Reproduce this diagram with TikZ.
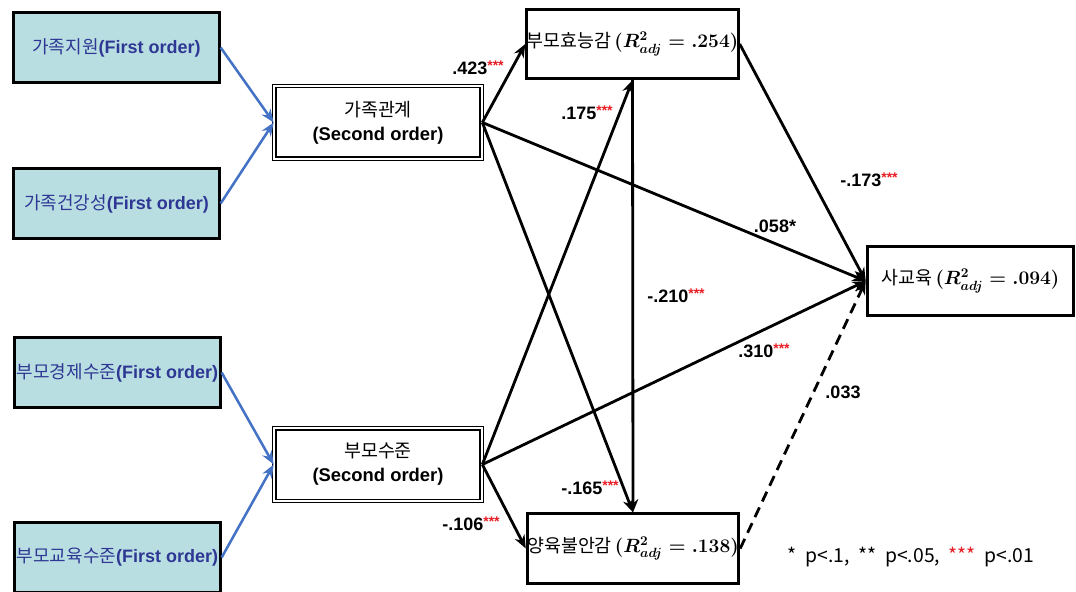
\documentclass[tikz,border=0pt]{standalone}
\usepackage{fontspec}
\usepackage{bm}
\usetikzlibrary{arrows.meta}
\setmainfont{Liberation Sans}
\newfontfamily\kor{Noto Sans CJK KR}
\definecolor{boxteal}{RGB}{185,222,226}
\definecolor{ordblue}{RGB}{46,56,148}
\definecolor{linkblue}{RGB}{68,114,196}
\definecolor{sigred}{RGB}{232,30,36}
\newcommand{\sig}[1]{\textcolor{sigred}{\raisebox{0.45ex}{\fontsize{10.5}{10}\selectfont #1}}}
\newcommand{\radj}[1]{\,{\boldmath$(\bm{R}^2_{\bm{adj}}=\bm{.#1})$}}

\begin{document}
\begin{tikzpicture}[x=0.75pt,y=-0.75pt,
   first/.style={draw,line width=2.2pt,fill=boxteal,minimum width=154pt,minimum height=52pt,
                 inner sep=0pt,text=ordblue,font=\fontsize{13.5}{15}\selectfont},
   second/.style={draw,double,line width=1pt,double distance=1.5pt,minimum width=155.5pt,
                  minimum height=54.5pt,align=center,font=\fontsize{13.8}{18}\selectfont},
   latent/.style={draw,line width=2.2pt,minimum width=155pt,minimum height=52pt,inner sep=0pt,
                  font=\fontsize{13.8}{15}\selectfont},
   coef/.style={font=\bfseries\fontsize{13.5}{15}\selectfont},
   effect/.style={->,line width=2.1pt},
   loading/.style={->,line width=1.9pt,draw=linkblue},
   >={Stealth[length=10pt,width=8pt]}]
   \useasboundingbox (0,0) rectangle (1076,592);

   % first order factors
   \node[first] (famsup)  at (116.5,47.5)  {{\kor 가족지원}\textbf{(First order)}};
   \node[first] (famhlth) at (116.5,203.5) {{\kor 가족건강성}\textbf{(First order)}};
   \node[first] (parecon) at (117.5,372.5) {{\kor 부모경제수준}\textbf{(First order)}};
   \node[first] (paredu)  at (117.5,557.5) {{\kor 부모교육수준}\textbf{(First order)}};

   % second order factors
   \node[second] (famrel) at (378,122.5) {{\kor 가족관계}\\\textbf{(Second order)}};
   \node[second] (parlev) at (378,464.5) {{\kor 부모수준}\\\textbf{(Second order)}};

   % outcomes
   \node[latent] (effic) at (632.5,44)  {{\kor 부모효능감}\radj{254}};
   \node[latent] (priv)  at (970.5,281) {{\kor 사교육}\radj{094}};
   \node[latent] (anx)   at (633,548.5) {{\kor 양육불안감}\radj{138}};

   \draw[loading] (famsup.east)  -- (famrel.west);
   \draw[loading] (famhlth.east) -- (famrel.west);
   \draw[loading] (parecon.east) -- (parlev.west);
   \draw[loading] (paredu.east)  -- (parlev.west);

   \draw[effect] (famrel.east) -- (effic.west);
   \draw[effect] (famrel.east) -- (priv.west);
   \draw[effect] (famrel.east) -- (anx.north);
   \draw[effect] (parlev.east) -- (effic.south);
   \draw[effect] (parlev.east) -- (priv.west);
   \draw[effect] (parlev.east) -- (anx.west);
   \draw[effect] (effic.south) -- (anx.north);
   \draw[effect] (effic.east)  -- (priv.west);
   \draw[effect,dash pattern=on 8pt off 5pt] (anx.east) -- (priv.west);
   %\draw[effect] (anx.east) -- (priv.west);

   \node[coef] (c423) at (478,68)  {.423\sig{***}};
   \node[coef] (c175) at (587,113) {.175\sig{***}};
   \node[coef] (c058) at (775,226) {.058*};
   \node[coef] (c173) at (869,180) {-.173\sig{***}};
   \node[coef] (c210) at (676,296) {-.210\sig{***}};
   \node[coef] (c310) at (764,351) {.310\sig{***}};
   \node[coef] (c033) at (843,392) {.033};
   \node[coef] (c165) at (590,488) {-.165\sig{***}};
   \node[coef] (c106) at (471,524) {-.106\sig{***}};

   \node[font=\kor\fontsize{14.5}{15}\selectfont] (legend) at (911,557)
      {*\ \ p<.1,\ \ **\ \ p<.05,\ \ \textcolor{sigred}{***}\ \ p<.01};
\end{tikzpicture}
\end{document}
